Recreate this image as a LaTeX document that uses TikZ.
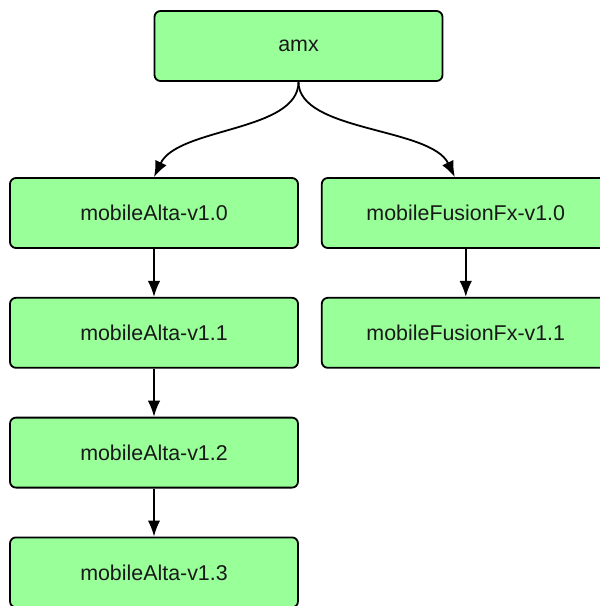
\documentclass[tikz,border=0pt]{standalone}
\usepackage{fontspec}
\setmainfont{Liberation Sans}
\usepackage{xcolor}
\usepackage{tikz}
\usetikzlibrary{arrows.meta,positioning}

\definecolor{nodegreen}{HTML}{99FF99}

\begin{document}
\begin{tikzpicture}[x=1pt, y=1pt, node distance=48pt,
  block/.style={rectangle, draw=black, line width=1.8pt, fill=nodegreen, text=black!90, minimum width=288pt, minimum height=70pt, rounded corners=6pt, font=\fontsize{21.4}{26}\selectfont},
  line/.style={draw, line width=1.8pt, -{Latex[length=16pt,width=12.5pt]}}]

  \useasboundingbox (0,0) rectangle (600,-606);

  \node [block] (amx) at (298.5,-46) {amx};
  \node [block] (alta0) at (154,-213) {mobileAlta-v1.0};
  \node [block, right=22pt of alta0] (fx0) {mobileFusionFx-v1.0};
  \node [block, below=of alta0] (alta1) {mobileAlta-v1.1};
  \node [block, below=of alta1] (alta2) {mobileAlta-v1.2};
  \node [block, below=of alta2] (alta3) {mobileAlta-v1.3};
  \node [block, below=of fx0] (fx1) {mobileFusionFx-v1.1};
  \coordinate (fx0in) at ([xshift=-11pt]fx0.north);

  \draw [line] (amx.south) .. controls +(0,-50) and +(24,50) .. (alta0.north);
  \draw [line] (amx.south) .. controls +(0,-50) and +(-24,50) .. (fx0in);
  \draw [line] (alta0) -- (alta1);
  \draw [line] (alta1) -- (alta2);
  \draw [line] (alta2) -- (alta3);
  \draw [line] (fx0) -- (fx1);
\end{tikzpicture}
\end{document}
